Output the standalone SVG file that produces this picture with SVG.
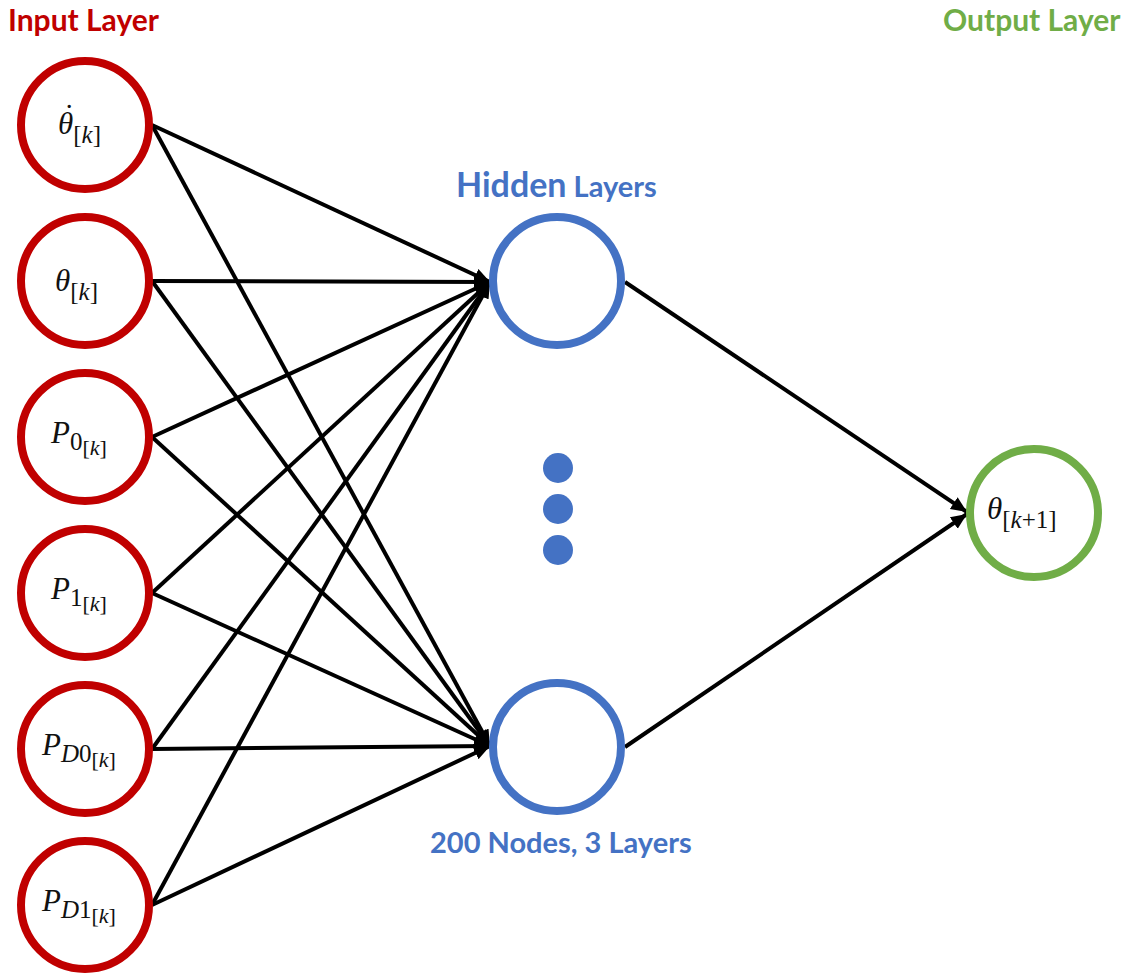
<svg xmlns="http://www.w3.org/2000/svg" width="1130" height="979" viewBox="0 0 1130 979">
<style>
.in{fill:#fff;stroke:#C00000;stroke-width:8}
.hid{fill:#fff;stroke:#4472C4;stroke-width:8}
.out{fill:#fff;stroke:#70AD47;stroke-width:8}
.edge{stroke:#000;stroke-width:4;fill:none}
.math{font-family:"Liberation Serif","DejaVu Serif",serif;font-size:31px;fill:#111}
.it{font-style:italic}
.sub{font-size:25px}
.sub2{font-size:22px}
.title{font-family:Lato,"Open Sans","Liberation Sans",sans-serif;font-weight:bold}
</style>
<defs>
<marker id="arr" markerUnits="userSpaceOnUse" markerWidth="18" markerHeight="16" refX="16" refY="8" orient="auto">
<path d="M0,1 L16,8 L0,15 Z" fill="#000"/>
</marker>
</defs>
<rect width="1130" height="979" fill="#fff"/>
<g id="connectors">
<line class="edge" x1="152" y1="125" x2="490" y2="282" marker-end="url(#arr)"/>
<line class="edge" x1="152" y1="125" x2="490" y2="746" marker-end="url(#arr)"/>
<line class="edge" x1="152" y1="281" x2="490" y2="282" marker-end="url(#arr)"/>
<line class="edge" x1="152" y1="281" x2="490" y2="746" marker-end="url(#arr)"/>
<line class="edge" x1="152" y1="437" x2="490" y2="282" marker-end="url(#arr)"/>
<line class="edge" x1="152" y1="437" x2="490" y2="746" marker-end="url(#arr)"/>
<line class="edge" x1="152" y1="593" x2="490" y2="282" marker-end="url(#arr)"/>
<line class="edge" x1="152" y1="593" x2="490" y2="746" marker-end="url(#arr)"/>
<line class="edge" x1="152" y1="749" x2="490" y2="282" marker-end="url(#arr)"/>
<line class="edge" x1="152" y1="749" x2="490" y2="746" marker-end="url(#arr)"/>
<line class="edge" x1="152" y1="905" x2="490" y2="282" marker-end="url(#arr)"/>
<line class="edge" x1="152" y1="905" x2="490" y2="746" marker-end="url(#arr)"/>
<line class="edge" x1="625" y1="282" x2="967" y2="512" marker-end="url(#arr)"/>
<line class="edge" x1="625" y1="747" x2="967" y2="514" marker-end="url(#arr)"/>
</g>
<g id="title-input"><text class="title" x="8" y="31" font-size="30" fill="#C00000">Input Layer</text></g>
<g id="title-output"><text class="title" x="943" y="31" font-size="30" fill="#70AD47">Output Layer</text></g>
<g id="title-hidden"><text class="title" x="456" y="197" fill="#4472C4"><tspan font-size="34">Hidden</tspan><tspan font-size="29"> Layers</tspan></text></g>
<g id="note-hidden"><text class="title" x="430" y="853" font-size="29" fill="#4472C4">200 Nodes, 3 Layers</text></g>
<g id="in1"><circle class="in" cx="85" cy="125" r="64"/>
<text class="math" x="58" y="134"><tspan class="it">θ</tspan><tspan class="sub" dy="9">[<tspan class="it">k</tspan>]</tspan><tspan x="64" y="126">˙</tspan></text></g>
<g id="in2"><circle class="in" cx="85" cy="281" r="64"/>
<text class="math" x="55" y="291"><tspan class="it">θ</tspan><tspan class="sub" dy="9">[<tspan class="it">k</tspan>]</tspan></text></g>
<g id="in3"><circle class="in" cx="85" cy="437" r="64"/>
<text class="math" x="51" y="443"><tspan class="it">P</tspan><tspan class="sub" dy="7">0</tspan><tspan class="sub2" dy="5">[<tspan class="it">k</tspan>]</tspan></text></g>
<g id="in4"><circle class="in" cx="85" cy="593" r="64"/>
<text class="math" x="51" y="599"><tspan class="it">P</tspan><tspan class="sub" dy="7">1</tspan><tspan class="sub2" dy="5">[<tspan class="it">k</tspan>]</tspan></text></g>
<g id="in5"><circle class="in" cx="85" cy="749" r="64"/>
<text class="math" x="42" y="755"><tspan class="it">P</tspan><tspan class="sub" dy="7"><tspan class="it">D</tspan>0</tspan><tspan class="sub2" dy="5">[<tspan class="it">k</tspan>]</tspan></text></g>
<g id="in6"><circle class="in" cx="85" cy="905" r="64"/>
<text class="math" x="42" y="911"><tspan class="it">P</tspan><tspan class="sub" dy="7"><tspan class="it">D</tspan>1</tspan><tspan class="sub2" dy="5">[<tspan class="it">k</tspan>]</tspan></text></g>
<g id="hid1"><circle class="hid" cx="557" cy="281" r="64"/></g>
<g id="hid2"><circle class="hid" cx="557" cy="747" r="64"/></g>
<g id="dots" fill="#4472C4"><circle cx="558" cy="468" r="15"/><circle cx="558" cy="509" r="15"/><circle cx="558" cy="550" r="15"/></g>
<g id="out1"><circle class="out" cx="1034" cy="513" r="64"/>
<text class="math" x="987" y="519"><tspan class="it">θ</tspan><tspan class="sub" dy="9">[<tspan class="it">k</tspan>+1]</tspan></text></g>
</svg>
